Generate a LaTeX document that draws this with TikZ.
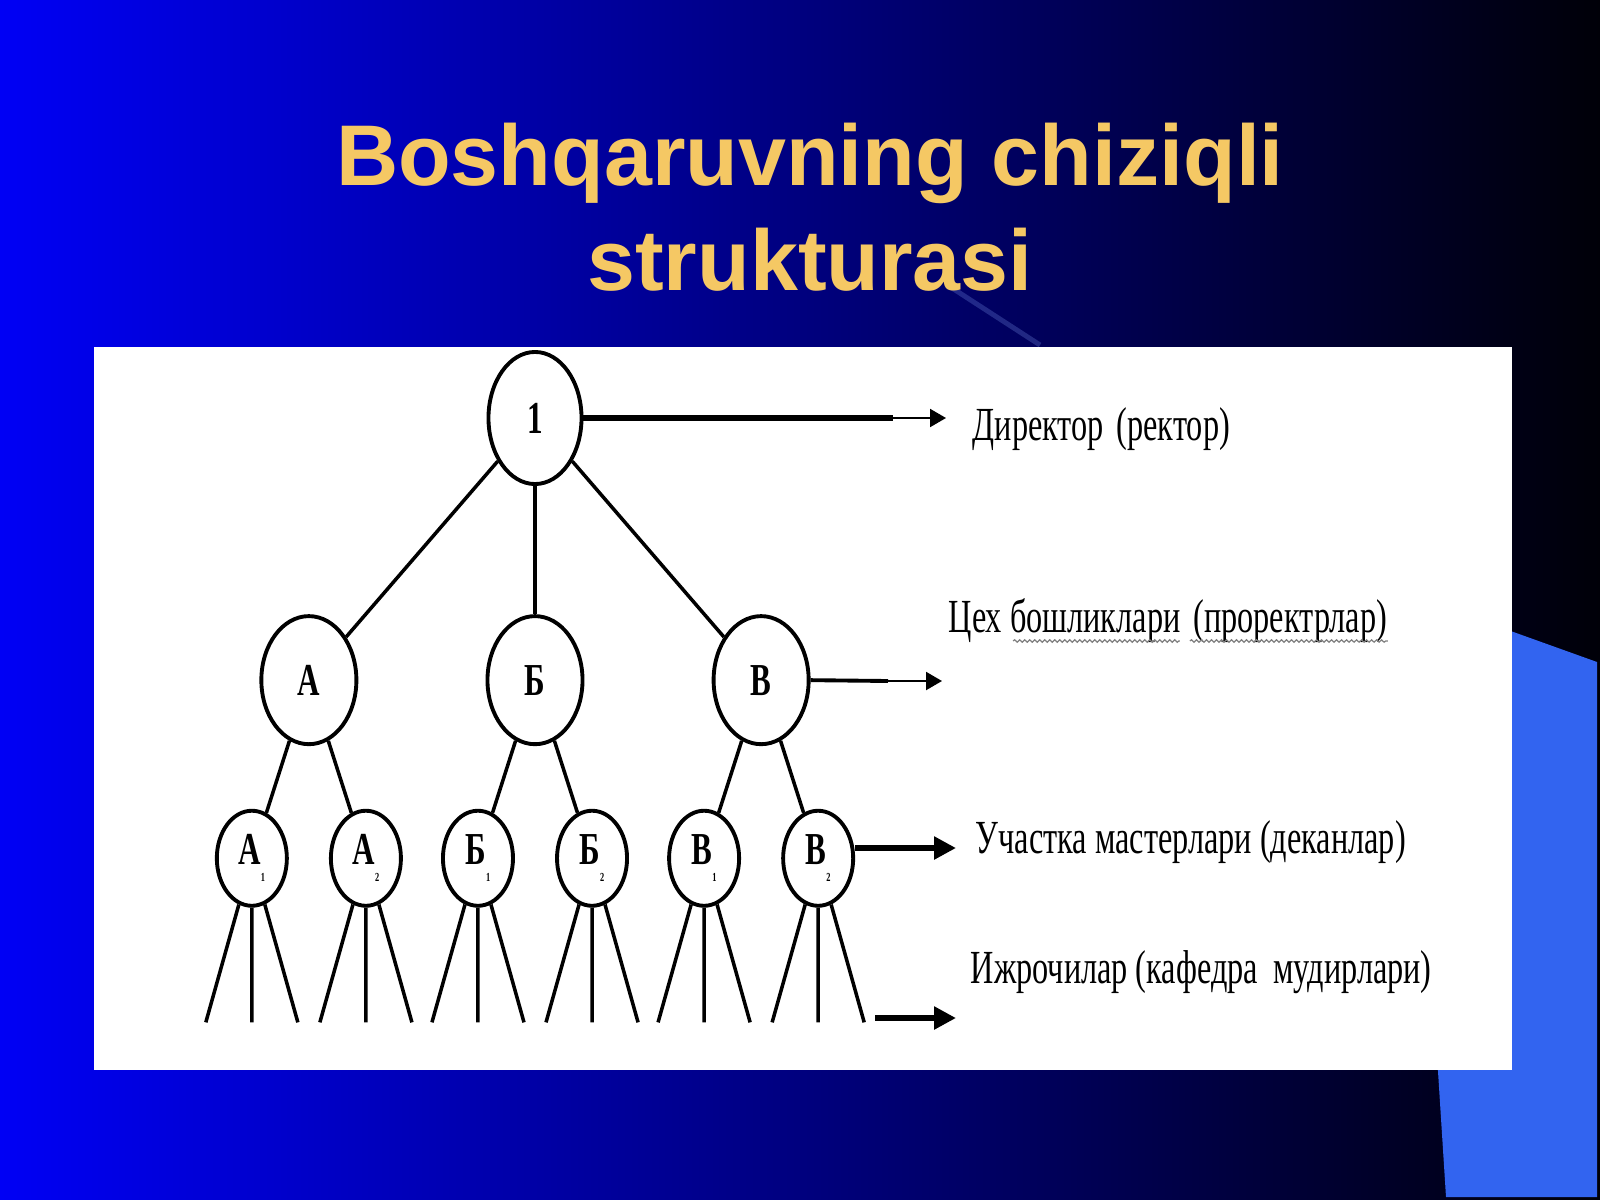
\documentclass[tikz,border=0pt]{standalone}
\usepackage{fontspec}
\setmainfont{Liberation Serif}
\newfontfamily\titlefont{Liberation Sans}
\newfontfamily\labelfont{Liberation Serif}[FakeStretch=0.68]
\usetikzlibrary{arrows.meta,shapes.geometric,calc,decorations.pathmorphing,positioning}
\definecolor{slideblue}{RGB}{0,0,245}
\definecolor{slidemid}{RGB}{0,0,150}
\definecolor{slidedark}{RGB}{0,0,8}
\definecolor{titlegold}{RGB}{245,200,100}
\definecolor{cornerblue}{RGB}{50,100,240}
\newcommand\lowidx[1]{\raisebox{-0.8ex}{\fontsize{3.5pt}{3.5pt}\selectfont #1}}

\begin{document}
\begin{tikzpicture}[x=0.01cm,y=-0.01cm,
title/.style={font=\titlefont\bfseries\fontsize{24.5}{30}\selectfont,text=titlegold,inner sep=0pt},
lbl/.style={font=\labelfont\fontsize{13.5}{16}\selectfont,anchor=base west,inner sep=0pt},
oval/.style={ellipse,draw,line width=1.1pt,inner sep=0pt,fill=white,
	font=\labelfont\bfseries\fontsize{13}{13}\selectfont},
topoval/.style={oval,minimum width=0.93cm,minimum height=1.32cm},
midoval/.style={oval,minimum width=0.95cm,minimum height=1.28cm},
lowoval/.style={oval,minimum width=0.70cm,minimum height=0.95cm},
edge from parent/.style={draw,line width=1pt},
level 1/.style={level distance=2.62cm,sibling distance=2.26cm},
level 2/.style={level distance=1.78cm,sibling distance=1.14cm},
level 3/.style={level distance=1.64cm,sibling distance=0.46cm},
fat/.style={line width=1.7pt},
slim/.style={line width=0.6pt},
wavy/.style={gray,line width=0.35pt,decorate,decoration={snake,segment length=0.05cm,amplitude=0.012cm}}]
\useasboundingbox (0,0) rectangle (1600,1200);

%slide background
\fill[left color=slideblue,middle color=slidemid,right color=slidedark] (0,0) rectangle (1600,1200);
\fill[cornerblue] (1480,620) -- (1597,662) -- (1597,1197) -- (1446,1197) -- (1436,1040) -- cycle;
\draw[cornerblue!60!white,opacity=0.25,line width=1.4pt] (952,288) -- (1040,345);
\fill[white] (94,347) rectangle (1512,1070);

%title
\node[title,anchor=base] (t1) at (810,185) {Boshqaruvning chiziqli};
\node[title,anchor=base] (t2) at ([yshift=-1.05cm]t1.base) {strukturasi};

%tree of posts
\node[topoval] (r) at (535,418) {1}
	child {node[midoval] (a) {А}
		child {node[lowoval] (a1) {А\lowidx{1}} child foreach \k in {1,2,3} {coordinate (a1\k)}}
		child {node[lowoval] (a2) {А\lowidx{2}} child foreach \k in {1,2,3} {coordinate (a2\k)}}
	}
	child {node[midoval] (b) {Б}
		child {node[lowoval] (b1) {Б\lowidx{1}} child foreach \k in {1,2,3} {coordinate (b1\k)}}
		child {node[lowoval] (b2) {Б\lowidx{2}} child foreach \k in {1,2,3} {coordinate (b2\k)}}
	}
	child {node[midoval] (c) {В}
		child {node[lowoval] (c1) {В\lowidx{1}} child foreach \k in {1,2,3} {coordinate (c1\k)}}
		child {node[lowoval] (c2) {В\lowidx{2}} child foreach \k in {1,2,3} {coordinate (c2\k)}}
	};

%level captions
\node[lbl] (lvl1) at (972,440) {Директор\hspace{0.05cm} (ректор)};
\node[lbl] (lvl2) at (948,632) {Цех бошликлари\hspace{0.05cm} (проректрлар)};
\node[lbl] (lvl3) at (975,853) {Участка мастерлари (деканлар)};
\node[lbl] (lvl4) at (970,983) {Ижрочилар (кафедра\hspace{0.07cm} мудирлари)};

%arrows to the captions
\coordinate (r-x) at (893,418);
\coordinate (r-t) at (946,418);
\coordinate (c-x) at (888,681);
\coordinate (c-t) at (942,681);
\coordinate (c2-t) at (956,848);
\coordinate (w-s) at (875,1018);
\coordinate (w-t) at (956,1018);
\draw[fat] (r.east) -- (r-x);
\draw[slim,-{Triangle[length=0.16cm,width=0.18cm]}] (r-x) -- (r-t);
\draw[line width=1.1pt] (c.east) -- (c-x);
\draw[slim,-{Triangle[length=0.16cm,width=0.18cm]}] (c-x) -- (c-t);
\draw[fat,-{Triangle[length=0.22cm,width=0.22cm]}] (c2.east |- c2-t) -- (c2-t);
\draw[fat,-{Triangle[length=0.22cm,width=0.22cm]}] (w-s) -- (w-t);

%spelling waves
\draw[wavy] ($(lvl2.base west)!0.148!(lvl2.base east)+(0,9)$) -- ($(lvl2.base west)!0.527!(lvl2.base east)+(0,9)$);
\draw[wavy] ($(lvl2.base west)!0.55!(lvl2.base east)+(0,9)$) -- ($(lvl2.base west)!1!(lvl2.base east)+(0,9)$);
\end{tikzpicture}
\end{document}
